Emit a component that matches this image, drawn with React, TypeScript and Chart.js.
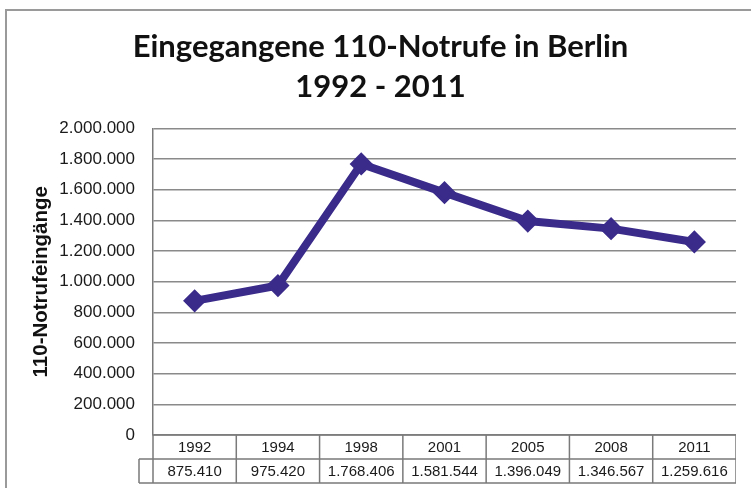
import React, { useEffect, useRef } from "react";
import { Chart, registerables } from "chart.js";

Chart.register(...registerables);

const years = ["1992", "1994", "1998", "2001", "2005", "2008", "2011"];
const calls = [875410, 975420, 1768406, 1581544, 1396049, 1346567, 1259616];
const titleLines = ["Eingegangene 110-Notrufe in Berlin", "1992 - 2011"];
const yAxisTitle = "110-Notrufeingänge";
const yMin = 0;
const yMax = 2000000;
const yStep = 200000;

const LINE_COLOR = "#3a2b8a";
const GRID_COLOR = "#8a8a8a";
const TABLE_COLOR = "#7a7a7a";

function fmt(n: number): string {
  return String(Math.round(n)).replace(/\B(?=(\d{3})+(?!\d))/g, ".");
}

const tablePlugin = {
  id: "dataTable",
  afterDraw(chart: any) {
    const { ctx, chartArea } = chart;
    const xScale = chart.scales.x;
    const rowH = 24;
    const keyW = 14;
    const top = chartArea.bottom;
    const left = chartArea.left;
    const right = chartArea.right;
    const colW = (right - left) / years.length;
    ctx.save();
    ctx.strokeStyle = TABLE_COLOR;
    ctx.lineWidth = 1.5;
    ctx.beginPath();
    ctx.moveTo(left, top);
    ctx.lineTo(right, top);
    ctx.moveTo(left - keyW, top + rowH);
    ctx.lineTo(right, top + rowH);
    ctx.moveTo(left - keyW, top + 2 * rowH);
    ctx.lineTo(right, top + 2 * rowH);
    ctx.moveTo(left - keyW, top + rowH);
    ctx.lineTo(left - keyW, top + 2 * rowH);
    for (let i = 0; i <= years.length; i++) {
      const cx = i < years.length ? xScale.getPixelForValue(i) - colW / 2 : right;
      ctx.moveTo(cx, top);
      ctx.lineTo(cx, top + 2 * rowH);
    }
    ctx.stroke();
    ctx.fillStyle = "#1a1a1a";
    ctx.font = "15px 'Liberation Sans', Arial, sans-serif";
    ctx.textAlign = "center";
    ctx.textBaseline = "middle";
    years.forEach((y, i) => {
      const cx = xScale.getPixelForValue(i);
      ctx.fillText(y, cx, top + rowH / 2 + 1);
      ctx.fillText(fmt(calls[i]), cx, top + rowH * 1.5 + 1);
    });
    ctx.restore();
  },
};

export default function App() {
  const canvasRef = useRef<HTMLCanvasElement | null>(null);

  useEffect(() => {
    const canvas = canvasRef.current;
    if (!canvas) return;
    const chart = new Chart(canvas, {
      type: "line",
      data: {
        labels: years,
        datasets: [
          {
            label: yAxisTitle,
            data: calls,
            borderColor: LINE_COLOR,
            backgroundColor: LINE_COLOR,
            borderWidth: 8,
            pointStyle: "rectRot",
            pointRadius: 9.5,
            pointBorderWidth: 3,
            pointBackgroundColor: LINE_COLOR,
            pointBorderColor: LINE_COLOR,
            tension: 0,
          },
        ],
      },
      options: {
        responsive: false,
        animation: false,
        layout: { autoPadding: false, padding: { top: 0, left: 25, right: 0, bottom: 53 } },
        plugins: {
          legend: { display: false },
          tooltip: { enabled: false },
          title: {
            display: true,
            text: titleLines,
            color: "#111111",
            font: { family: "Lato, 'Open Sans', sans-serif", size: 31, weight: "bold", lineHeight: 40 / 31 },
            padding: { top: 27, bottom: 21.5 },
          },
        },
        scales: {
          x: {
            type: "category",
            display: false,
            offset: true,
            grid: { offset: true },
          },
          y: {
            min: yMin,
            max: yMax,
            afterFit(scale: any) {
              scale.width = 128;
            },
            ticks: {
              stepSize: yStep,
              padding: 18,
              color: "#1a1a1a",
              font: { family: "'Liberation Sans', Arial, sans-serif", size: 17 },
              callback: (v: any) => fmt(Number(v)),
            },
            grid: {
              color: GRID_COLOR,
              lineWidth: 1.5,
              drawTicks: false,
            },
            border: { display: true, color: TABLE_COLOR, width: 1.5 },
            title: {
              display: true,
              text: yAxisTitle,
              color: "#111111",
              font: { family: "'Liberation Sans', Arial, sans-serif", size: 20.5, weight: "bold" },
              padding: { top: 4, bottom: 0 },
            },
          },
        },
      },
      plugins: [tablePlugin],
    });
    return () => chart.destroy();
  }, []);

  return (
    <div style={{ position: "absolute", left: 0, top: 0, width: 751, height: 488, background: "#ffffff", overflow: "hidden" }}>
      <canvas ref={canvasRef} width={736} height={488} style={{ position: "absolute", left: 0, top: 0 }} />
      <div
        style={{
          position: "absolute",
          left: 5,
          top: 9,
          width: 746,
          height: 479,
          borderTop: "2px solid #9a9a9a",
          borderLeft: "2px solid #9a9a9a",
          boxSizing: "border-box",
          pointerEvents: "none",
        }}
      />
    </div>
  );
}
